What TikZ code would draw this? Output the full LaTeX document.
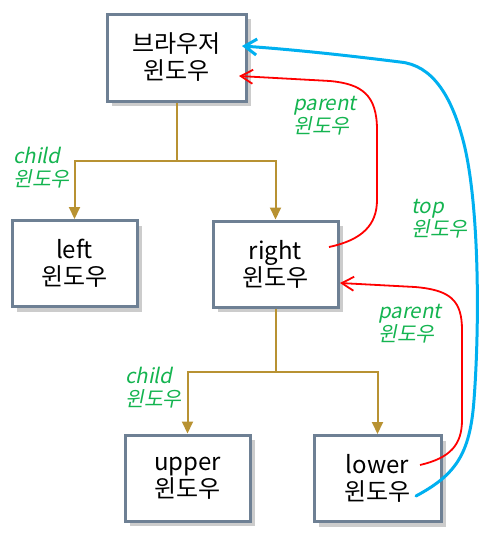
\documentclass[tikz,border=0pt]{standalone}
\usepackage{fontspec}
\setmainfont{Noto Sans CJK KR}
\newfontfamily\labfont[FakeSlant=0.2]{Noto Sans CJK KR}
\usetikzlibrary{arrows.meta,shadows}
\definecolor{boxline}{RGB}{110,128,148}
\definecolor{gold}{RGB}{184,146,50}
\definecolor{labgreen}{RGB}{20,180,80}
\definecolor{skyblue}{RGB}{0,176,240}
\definecolor{redline}{RGB}{255,0,0}
\tikzset{
  win/.style={draw=boxline, line width=3pt, fill=white, align=center,
    font=\fontsize{24}{27}\selectfont, inner sep=0pt,
    minimum width=125pt, minimum height=86pt,
    drop shadow={shadow xshift=5pt, shadow yshift=-5pt, fill=black!20, opacity=1}},
  lab/.style={text=labgreen, align=left, anchor=west, inner sep=0pt,
    font=\labfont\fontsize{20.5}{23}\selectfont},
  tree/.style={draw=gold, line width=2pt},
  treearrow/.style={tree, -{Triangle[length=12pt,width=11pt]}},
  redarrow/.style={draw=redline, line width=1.8pt, -{Straight Barb[length=12pt,width=14pt]}},
  bluearrow/.style={draw=skyblue, line width=3pt, line cap=round, -{Straight Barb[length=12pt,width=16pt]}},
}
\begin{document}
\begin{tikzpicture}[x=1pt,y=-1pt]
\useasboundingbox (0,0) rectangle (490,536);
\node[win, minimum width=139pt, minimum height=87pt] (bw) at (176.5,57.5) {브라우저\\윈도우};
\node[win] (left) at (74.5,263.5) {left\\윈도우};
\node[win] (right) at (275.5,264) {right\\윈도우};
\node[win] (upper) at (187.5,478) {upper\\윈도우};
\node[win, minimum width=127pt] (lower) at (377.5,478.5) {lower\\윈도우};

% tree connectors
\coordinate (j1) at (176.5,161);
\coordinate (j2) at (275.5,372);
\draw[tree] (bw.south) -- (j1);
\draw[treearrow] (j1) -| (left.north);
\draw[treearrow] (j1) -| (right.north);
\draw[tree] (right.south) -- (j2);
\draw[treearrow] (j2) -| (upper.north);
\draw[treearrow] (j2) -| (lower.north);

% parent / top connectors
\coordinate (r1s) at (329,247);
\coordinate (r1e) at (239,76);
\draw[redarrow] (r1s) .. controls (362,240) and (377,225) .. (377,200)
  -- (377,130) .. controls (377,95) and (362,84) .. (330,81)
  -- (r1e);
\coordinate (r2s) at (420,465);
\coordinate (r2e) at (340,283);
\draw[redarrow] (r2s) .. controls (450,458) and (462,445) .. (462,420)
  -- (462,330) .. controls (462,300) and (450,290) .. (415,287)
  -- (r2e);
\coordinate (bs) at (416,496);
\coordinate (be) at (242,46);
\draw[bluearrow] (bs) .. controls (455,475) and (470,455) .. (474,400)
  .. controls (480,320) and (479,200) .. (463,140)
  .. controls (451,95) and (432,65) .. (400,62)
  .. controls (360,57) and (300,50) .. (be);

% labels
\node[lab] (c1) at (13,168) {child\\윈도우};
\node[lab] (p1) at (293,116) {parent\\윈도우};
\node[lab] (t1) at (411,219) {top\\윈도우};
\node[lab] (p2) at (378,324) {parent\\윈도우};
\node[lab] (c2) at (125,388) {child\\윈도우};
\end{tikzpicture}
\end{document}
